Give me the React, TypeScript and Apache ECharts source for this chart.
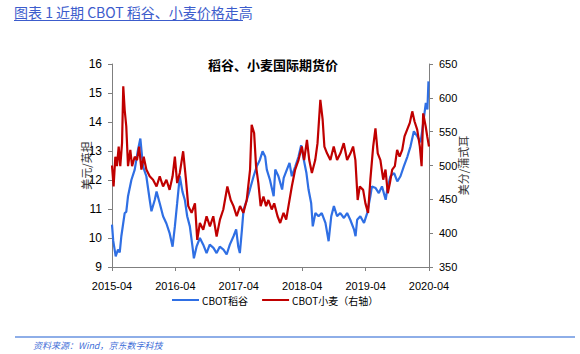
import React, { useEffect, useRef } from "react";
import * as echarts from "echarts";

const riceDates = [
  "2015-04-01","2015-04-08","2015-04-16","2015-04-22","2015-05-05","2015-05-15","2015-05-24","2015-06-13","2015-06-22","2015-07-02",
  "2015-07-21","2015-08-10","2015-08-29","2015-09-12","2015-09-27","2015-10-16","2015-11-05","2015-11-15","2015-12-04","2015-12-14",
  "2016-01-02","2016-01-21","2016-02-10","2016-02-28","2016-03-15","2016-03-28","2016-04-11","2016-04-26","2016-05-11","2016-05-25",
  "2016-06-08","2016-06-23","2016-07-08","2016-07-16","2016-08-01","2016-08-20","2016-09-09","2016-09-28","2016-10-16","2016-11-07",
  "2016-11-25","2016-12-13","2017-01-04","2017-01-22","2017-02-10","2017-03-01","2017-03-16","2017-03-28","2017-04-07","2017-04-19",
  "2017-04-28","2017-05-16","2017-06-04","2017-06-25","2017-07-13","2017-08-01","2017-08-16","2017-09-01","2017-09-10","2017-09-28",
  "2017-10-19","2017-10-28","2017-11-16","2017-12-07","2017-12-16","2018-01-04","2018-01-19","2018-02-02","2018-02-22","2018-03-10",
  "2018-03-25","2018-04-10","2018-04-25","2018-05-07","2018-05-22","2018-06-01","2018-06-16","2018-07-04","2018-07-22","2018-08-13",
  "2018-09-01","2018-09-16","2018-10-01","2018-10-19","2018-11-07","2018-11-28","2018-12-16","2019-01-04","2019-01-25","2019-02-04",
  "2019-02-13","2019-03-01","2019-03-22","2019-04-10","2019-04-28","2019-05-07","2019-05-28","2019-06-16","2019-07-04","2019-07-25",
  "2019-08-04","2019-08-22","2019-09-13","2019-10-01","2019-10-19","2019-11-08","2019-11-28","2019-12-16","2020-01-05","2020-01-25",
  "2020-02-13","2020-02-22","2020-03-13","2020-03-22","2020-03-28"
];
const riceValues = [
  10.46,9.9,9.6,9.37,9.6,9.5,10.06,10.86,10.9,11.44,
  12.0,12.36,13.05,13.43,12.47,12.13,11.32,10.92,11.32,11.6,
  11.2,10.75,10.5,10.17,9.7,10.4,11.2,12.13,11.6,11.3,
  10.75,10.4,9.7,9.3,9.7,10.0,9.77,9.48,9.77,9.66,
  9.48,9.7,9.6,9.43,9.77,10.06,10.3,9.7,9.48,10.3,
  10.98,11.3,11.67,12.13,12.47,12.7,12.99,12.8,12.36,12.0,
  11.44,12.36,12.13,11.67,12.07,12.36,12.59,12.13,12.47,12.8,
  13.2,12.7,12.24,11.67,11.2,10.4,10.86,10.75,10.86,10.52,
  9.89,10.75,11.1,10.75,10.86,10.69,10.86,10.63,10.3,10.06,
  10.63,10.75,10.52,10.86,11.44,11.78,11.72,11.55,11.78,11.32,
  11.67,12.13,12.24,11.95,12.13,12.47,12.8,13.16,13.68,13.5,
  13.3,13.68,14.66,14.43,15.4
];

const wheatDates = [
  "2015-04-01","2015-04-10","2015-04-20","2015-04-29","2015-05-09","2015-05-18","2015-05-28","2015-06-05","2015-06-13","2015-06-22",
  "2015-07-02","2015-07-15","2015-07-25","2015-08-10","2015-08-23","2015-09-05","2015-09-18","2015-10-01","2015-10-16","2015-11-05",
  "2015-11-24","2015-12-14","2016-01-02","2016-01-21","2016-02-10","2016-02-28","2016-03-15","2016-03-28","2016-04-11","2016-04-26",
  "2016-05-15","2016-05-31","2016-06-14","2016-07-03","2016-07-22","2016-08-05","2016-08-20","2016-09-09","2016-09-28","2016-10-17",
  "2016-11-06","2016-11-25","2016-12-14","2017-01-03","2017-01-26","2017-02-15","2017-03-01","2017-03-19","2017-04-08","2017-04-27",
  "2017-05-16","2017-06-05","2017-06-14","2017-06-28","2017-07-09","2017-07-22","2017-08-05","2017-08-21","2017-09-06","2017-09-19",
  "2017-10-08","2017-10-22","2017-11-11","2017-11-26","2017-12-15","2017-12-30","2018-01-13","2018-02-02","2018-02-21","2018-03-10",
  "2018-03-29","2018-04-12","2018-04-28","2018-05-11","2018-05-26","2018-06-15","2018-06-28","2018-07-14","2018-07-27","2018-08-07",
  "2018-08-22","2018-09-11","2018-09-30","2018-10-19","2018-11-08","2018-11-27","2018-12-16","2019-01-05","2019-01-20","2019-02-03",
  "2019-02-16","2019-02-28","2019-03-17","2019-03-30","2019-04-15","2019-04-28","2019-05-14","2019-05-27","2019-06-10","2019-06-25",
  "2019-07-11","2019-07-24","2019-08-07","2019-08-19","2019-09-02","2019-09-17","2019-09-30","2019-10-14","2019-10-29","2019-11-12",
  "2019-11-27","2019-12-12","2019-12-26","2020-01-09","2020-01-24","2020-02-09","2020-02-19","2020-02-28","2020-03-12","2020-03-21",
  "2020-04-01"
];
const wheatValues = [
  500,469,513,499,528,499,533,617,582,558,
  499,523,499,513,508,528,494,513,494,484,
  479,469,484,469,479,464,484,513,474,489,
  521,479,440,430,444,390,415,405,425,410,
  425,395,420,435,469,449,440,425,440,430,
  449,494,560,548,499,474,440,454,440,449,
  435,444,425,415,430,420,440,469,494,508,
  528,508,538,508,489,508,533,597,568,528,
  518,508,528,508,518,533,508,518,528,508,
  449,469,464,444,430,479,528,555,518,508,
  479,494,459,474,494,499,523,513,523,543,
  553,563,580,565,553,528,499,577,558,543,
  528
];

const xTickLabels = ["2015-04", "2016-04", "2017-04", "2018-04", "2019-04", "2020-04"];
const leftTicks = [9, 16];
const rightTicks = [350, 650];

function toMonths(d: string): number {
  const [y, m, dd] = d.split("-").map(Number);
  return (y - 2015) * 12 + (m - 4) + (dd - 1) / 30;
}

const FONT = "'Liberation Sans', Arial, sans-serif";
const CJK = "'Noto Sans CJK SC', sans-serif";

export default function App() {
  const ref = useRef<HTMLDivElement>(null);
  useEffect(() => {
    if (!ref.current) return;
    const chart = echarts.init(ref.current, null, { renderer: "svg" });
    const rice = riceDates.map((d, i) => [toMonths(d), riceValues[i]]);
    const wheat = wheatDates.map((d, i) => [toMonths(d), wheatValues[i]]);
    chart.setOption({
      animation: false,
      backgroundColor: "#ffffff",
      title: {
        text: "稻谷、小麦国际期货价",
        left: 268,
        top: 53,
        textAlign: "center",
        textStyle: { fontFamily: CJK, fontSize: 13, fontWeight: "bold", color: "#000" },
      },
      grid: { left: 112, right: 151, top: 64, bottom: 87, containLabel: false },
      legend: {
        left: 172,
        top: 295,
        padding: 0,
        itemWidth: 27,
        itemHeight: 2,
        itemGap: 14,
        icon: "rect",
        textStyle: { fontFamily: CJK, fontSize: 10, color: "#000", padding: [0, 0, 0, -2] },
        data: ["CBOT稻谷", "CBOT小麦（右轴）"],
      },
      xAxis: {
        type: "value",
        min: 0,
        max: 60,
        interval: 12,
        axisLine: { lineStyle: { color: "#7f7f7f", width: 1 } },
        axisTick: { show: true, length: 4, lineStyle: { color: "#7f7f7f" } },
        splitLine: { show: false },
        axisLabel: {
          margin: 13,
          fontFamily: FONT,
          fontSize: 11,
          color: "#000",
          formatter: (v: number) => xTickLabels[Math.round(v / 12)] ?? "",
        },
      },
      yAxis: [
        {
          type: "value",
          min: leftTicks[0],
          max: leftTicks[1],
          interval: 1,
          name: "美元/英担",
          nameLocation: "middle",
          nameRotate: 90,
          nameGap: 21,
          nameMoveOverlap: false,
          nameTextStyle: { fontFamily: CJK, fontSize: 11, color: "#333" },
          axisLine: { show: true, lineStyle: { color: "#7f7f7f" } },
          axisTick: { show: true, length: 4, lineStyle: { color: "#7f7f7f" } },
          splitLine: { show: false },
          axisLabel: { margin: 10, fontFamily: FONT, fontSize: 12, color: "#000" },
        },
        {
          type: "value",
          position: "right",
          min: rightTicks[0],
          max: rightTicks[1],
          interval: 50,
          name: "美分/蒲式耳",
          nameLocation: "middle",
          nameRotate: 90,
          nameGap: 28,
          nameMoveOverlap: false,
          nameTextStyle: { fontFamily: CJK, fontSize: 11, color: "#333" },
          axisLine: { show: true, lineStyle: { color: "#7f7f7f" } },
          axisTick: { show: true, length: 4, lineStyle: { color: "#7f7f7f" } },
          splitLine: { show: false },
          axisLabel: { margin: 10, fontFamily: FONT, fontSize: 11, color: "#000" },
        },
      ],
      series: [
        {
          name: "CBOT稻谷",
          type: "line",
          yAxisIndex: 0,
          data: rice,
          showSymbol: false,
          symbol: "none",
          lineStyle: { color: "#2f6fe4", width: 2.2 },
          itemStyle: { color: "#2f6fe4" },
        },
        {
          name: "CBOT小麦（右轴）",
          type: "line",
          yAxisIndex: 1,
          data: wheat,
          showSymbol: false,
          symbol: "none",
          lineStyle: { color: "#c00000", width: 2.2 },
          itemStyle: { color: "#c00000" },
        },
      ],
      graphic: [
        {
          type: "text",
          left: 14,
          top: 5,
          style: {
            text: "图表 1 近期 CBOT 稻谷、小麦价格走高",
            fontFamily: CJK,
            fontSize: 14,
            fill: "#3c5ccc",
          },
        },
        {
          type: "line",
          shape: { x1: 14, y1: 20.5, x2: 243, y2: 20.5 },
          style: { stroke: "#3c5ccc", lineWidth: 1 },
        },
        {
          type: "line",
          shape: { x1: 15, y1: 337, x2: 575, y2: 337 },
          style: { stroke: "#8eaee8", lineWidth: 2 },
        },
        {
          type: "text",
          left: 33,
          top: 341,
          style: {
            text: "资料来源：Wind，京东数字科技",
            fontFamily: CJK,
            fontSize: 9,
            fontStyle: "italic",
            fill: "#3f6fd8",
          },
        },
      ],
    });
    return () => chart.dispose();
  }, []);
  return (
    <div
      ref={ref}
      style={{ position: "absolute", left: 0, top: 0, width: 580, height: 354 }}
    />
  );
}
